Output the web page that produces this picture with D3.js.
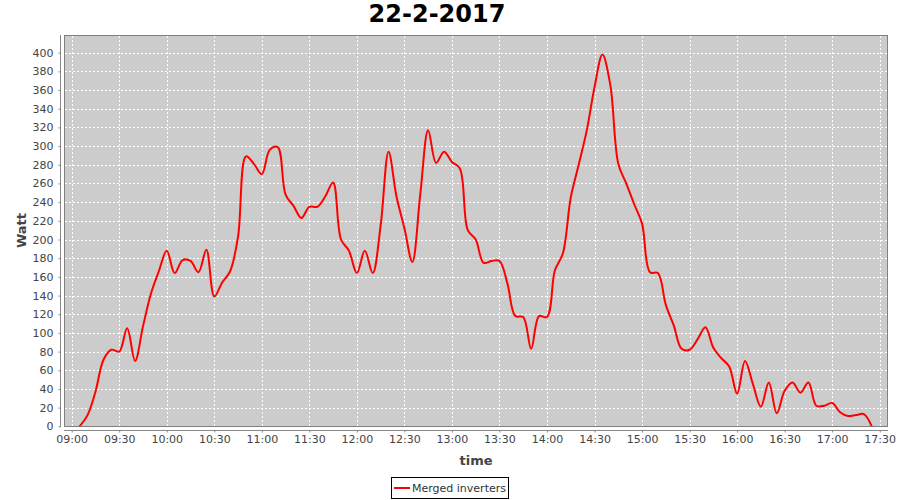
<!DOCTYPE html>
<html>
<head>
<meta charset="utf-8">
<script src="https://cdn.jsdelivr.net/npm/d3@7"></script>
<style>
  html, body { margin: 0; padding: 0; background: #ffffff; }
  svg { display: block; font-family: "DejaVu Sans", sans-serif; }
</style>
</head>
<body>
<svg id="chart" width="900" height="500"></svg>
<script>
// ---- data ----
const times = [
  "09:05","09:10","09:15","09:20","09:25","09:30","09:35","09:40","09:45","09:50","09:55",
  "10:00","10:05","10:10","10:15","10:20","10:25","10:30","10:35","10:40","10:45","10:50","10:55",
  "11:00","11:05","11:10","11:15","11:20","11:25","11:30","11:35","11:40","11:45","11:50","11:55",
  "12:00","12:05","12:10","12:15","12:20","12:25","12:30","12:35","12:40","12:45","12:50","12:55",
  "13:00","13:05","13:10","13:15","13:20","13:25","13:30","13:35","13:40","13:45","13:50","13:55",
  "14:00","14:05","14:10","14:15","14:20","14:25","14:30","14:35","14:40","14:45","14:50","14:55",
  "15:00","15:05","15:10","15:15","15:20","15:25","15:30","15:35","15:40","15:45","15:50","15:55",
  "16:00","16:05","16:10","16:15","16:20","16:25","16:30","16:35","16:40","16:45","16:50","16:55",
  "17:00","17:05","17:10","17:15","17:20","17:25"
];
const watts = [
  0, 12, 37, 71, 82, 80, 105, 70, 107, 142, 166,
  188, 164, 178, 177, 165, 189, 139, 154, 166, 203, 289, 281,
  270, 296, 299, 248, 236, 223, 235, 235, 246, 261, 200, 188,
  164, 188, 164, 215, 294, 246, 212, 176, 248, 317, 282, 294,
  283, 276, 210, 200, 175, 177, 177, 153, 118, 117, 83, 118,
  117, 167, 185, 245, 280, 316, 363, 398, 365, 281, 260, 238,
  217, 165, 164, 130, 108, 83, 82, 93, 106, 84, 73, 64,
  35, 70, 45, 21, 47, 14, 38, 47, 36, 47, 22, 22,
  25, 15, 11, 12, 13, 0
];
const xTickLabels = ["09:00","09:30","10:00","10:30","11:00","11:30","12:00","12:30","13:00",
                     "13:30","14:00","14:30","15:00","15:30","16:00","16:30","17:00","17:30"];
const yTickValues = [0,20,40,60,80,100,120,140,160,180,200,220,240,260,280,300,320,340,360,380,400];
const title = "22-2-2017";
const xAxisTitle = "time";
const yAxisTitle = "Watt";
const seriesName = "Merged inverters";

// ---- helpers ----
const toDate = s => { const [h, m] = s.split(":").map(Number); return new Date(2017, 1, 22, h, m); };
const data = times.map((t, i) => ({ t: toDate(t), v: watts[i] }));

// ---- layout ----
const plot = { left: 64, top: 35, right: 888, bottom: 426 };
const svg = d3.select("#chart");

const x = d3.scaleTime()
  .domain([toDate("09:00"), toDate("17:30")])
  .range([71.7, 879.7]);
const y = d3.scaleLinear()
  .domain([0, 400])
  .range([426.3, 52.7]);

const crisp = v => Math.round(v) + 0.5;

// plot background
svg.append("rect")
  .attr("x", plot.left + 0.5).attr("y", plot.top + 0.5)
  .attr("width", plot.right - plot.left - 1).attr("height", plot.bottom - plot.top)
  .attr("fill", "#cccccc");

// grid lines
const grid = svg.append("g").attr("stroke", "#ffffff").attr("stroke-width", 1)
  .attr("stroke-dasharray", "2,2");
grid.selectAll("line.v").data(xTickLabels).join("line")
  .attr("class", "v")
  .attr("x1", d => crisp(x(toDate(d)))).attr("x2", d => crisp(x(toDate(d))))
  .attr("y1", plot.top + 1).attr("y2", plot.bottom);
grid.selectAll("line.h").data(yTickValues).join("line")
  .attr("class", "h")
  .attr("x1", plot.left + 1).attr("x2", plot.right - 1)
  .attr("y1", d => crisp(y(d))).attr("y2", d => crisp(y(d)));

// clip
svg.append("clipPath").attr("id", "clip").append("rect")
  .attr("x", plot.left).attr("y", plot.top)
  .attr("width", plot.right - plot.left).attr("height", plot.bottom - plot.top + 1);

// line
const line = d3.line()
  .x(d => x(d.t)).y(d => y(d.v))
  .curve(d3.curveCatmullRom.alpha(0.5));
svg.append("path")
  .datum(data)
  .attr("clip-path", "url(#clip)")
  .attr("fill", "none")
  .attr("stroke", "#ff0000")
  .attr("stroke-width", 2)
  .attr("stroke-linejoin", "round")
  .attr("d", line);

// plot outline
svg.append("rect")
  .attr("x", plot.left + 0.5).attr("y", plot.top + 0.5)
  .attr("width", plot.right - plot.left - 1).attr("height", plot.bottom - plot.top)
  .attr("fill", "none").attr("stroke", "#808080").attr("stroke-width", 1);

// y axis
const yAxis = d3.axisLeft(y).tickValues(yTickValues).tickSize(2).tickSizeOuter(0).tickPadding(5);
const gy = svg.append("g").attr("transform", "translate(60.5,0)").call(yAxis);
gy.select(".domain").remove();
gy.selectAll(".tick line").attr("stroke", "#888888");
gy.selectAll(".tick text").attr("font-size", 11).attr("fill", "#444444")
  .attr("font-family", "DejaVu Sans, sans-serif");
svg.append("line")
  .attr("x1", 60.5).attr("x2", 60.5).attr("y1", plot.top).attr("y2", plot.bottom + 1)
  .attr("stroke", "#888888");

// x axis
const xAxis = d3.axisBottom(x).tickValues(xTickLabels.map(toDate))
  .tickFormat(d3.timeFormat("%H:%M")).tickSize(2).tickSizeOuter(0).tickPadding(3);
const gx = svg.append("g").attr("transform", "translate(0,430.5)").call(xAxis);
gx.select(".domain").remove();
gx.selectAll(".tick line").attr("stroke", "#888888");
gx.selectAll(".tick text").attr("font-size", 11).attr("fill", "#444444")
  .attr("font-family", "DejaVu Sans, sans-serif");
svg.append("line")
  .attr("x1", plot.left).attr("x2", plot.right).attr("y1", 430.5).attr("y2", 430.5)
  .attr("stroke", "#888888");

// title
svg.append("text")
  .attr("x", 437).attr("y", 22)
  .attr("text-anchor", "middle")
  .attr("font-size", 24).attr("font-weight", "bold").attr("fill", "#000000")
  .text(title);

// axis titles
svg.append("text")
  .attr("x", (plot.left + plot.right) / 2).attr("y", 465)
  .attr("text-anchor", "middle")
  .attr("font-size", 13).attr("font-weight", "bold").attr("fill", "#444444")
  .text(xAxisTitle);
svg.append("text")
  .attr("transform", `translate(26,${(plot.top + plot.bottom) / 2}) rotate(-90)`)
  .attr("text-anchor", "middle")
  .attr("font-size", 13).attr("font-weight", "bold").attr("fill", "#444444")
  .text(yAxisTitle);

// legend
const lg = svg.append("g");
lg.append("rect").attr("x", 391.5).attr("y", 477.5).attr("width", 117).attr("height", 21)
  .attr("fill", "#ffffff").attr("stroke", "#000000");
lg.append("line").attr("x1", 394).attr("x2", 410).attr("y1", 488).attr("y2", 488)
  .attr("stroke", "#ff0000").attr("stroke-width", 2);
lg.append("text").attr("x", 412).attr("y", 492)
  .attr("font-size", 11).attr("fill", "#333333")
  .text(seriesName);
</script>
</body>
</html>
